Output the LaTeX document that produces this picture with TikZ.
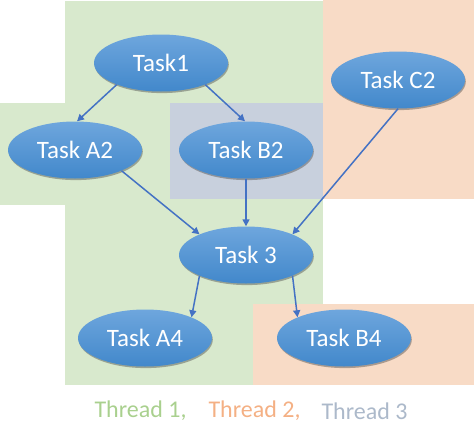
\documentclass[tikz,border=0pt]{standalone}
\usepackage{fontspec}
\setmainfont{Carlito}
\usetikzlibrary{shapes.geometric,arrows.meta,shadows}
\definecolor{gbg}{RGB}{216,233,205}
\definecolor{obg}{RGB}{248,219,198}
\definecolor{sbg}{RGB}{200,208,221}
\definecolor{etop}{RGB}{110,166,221}
\definecolor{ebot}{RGB}{66,136,203}
\definecolor{arr}{RGB}{68,114,196}
\definecolor{lgreen}{RGB}{169,208,142}
\definecolor{lorange}{RGB}{244,176,132}
\definecolor{lgray}{RGB}{172,185,202}
\tikzset{
  task/.style={ellipse, minimum width=134pt, minimum height=57pt, inner sep=0pt,
    top color=etop, bottom color=ebot, draw=none, text=white,
    font=\fontsize{25}{25}\selectfont,
    drop shadow={shadow xshift=0.8pt, shadow yshift=-1.6pt, opacity=0.45, fill=black!70}},
  link/.style={draw=arr, line width=1.5pt, -{Triangle[length=7pt,width=7pt]}},
  legend/.style={font=\fontsize{24}{24}\selectfont, anchor=west}
}
\begin{document}
\begin{tikzpicture}[x=1pt,y=-1pt]
\useasboundingbox (0,0) rectangle (474,439);
% thread regions
\fill[gbg] (65,1) rectangle (323,385);
\fill[gbg] (0,103) rectangle (65,205);
\fill[sbg] (170,103) rectangle (323,199);
\fill[obg] (323,0) rectangle (474,199);
\fill[obg] (253,304) rectangle (474,385);
% tasks
\node[task] (t1) at (161,63) {Task1};
\node[task] (c2) at (398,80) {Task C2};
\node[task] (a2) at (75,150) {Task A2};
\node[task] (b2) at (246,150) {Task B2};
\node[task] (t3) at (246,255) {Task 3};
\node[task] (a4) at (145,338) {Task A4};
\node[task] (b4) at (344,338) {Task B4};
% links
\draw[link] (t1.206) -- (a2.86);
\draw[link] (t1.334) -- (b2.92);
\draw[link] (a2.336) -- (t3.156);
\draw[link] (b2.south) -- (t3.north);
\draw[link] (c2.south) -- (t3.24);
\draw[link] (t3.204) -- (a4.24);
\draw[link] (t3.336) -- (b4.156);
% legend
\node[legend, text=lgreen] (l1) at (91,411) {Thread 1,};
\node[legend, text=lorange] (l2) at (205,411) {Thread 2,};
\node[legend, text=lgray] (l3) at (318,411) {Thread 3};
\end{tikzpicture}
\end{document}
